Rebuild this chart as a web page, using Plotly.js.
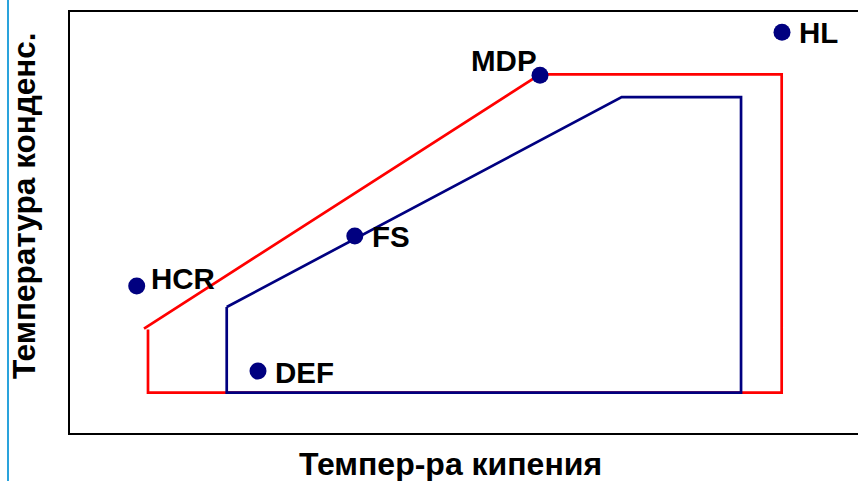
<!DOCTYPE html>
<html>
<head>
<meta charset="utf-8">
<script src="https://cdn.plot.ly/plotly-3.0.1.min.js"></script>
<style>html,body{margin:0;padding:0;overflow:hidden;background:#fff;}#chart{width:880px;height:481px;}</style>
</head>
<body>
<div id="chart"></div>
<script>
// Named data arrays (arbitrary 0-100 units)
const pointNames = ["HCR", "DEF", "FS", "MDP", "HL"];
const pointX = [8.34, 23.5, 35.6, 58.75, 89.0];
const pointY = [34.9, 14.7, 46.8, 85.0, 95.2];

const redX = [9.25, 58.75, 88.96, 88.96, 9.75, 9.75];
const redY = [24.8, 85.2, 85.2, 9.57, 9.57, 24.6];

const blueX = [19.59, 68.96, 83.88, 83.88, 19.59, 19.59];
const blueY = [29.93, 79.8, 79.8, 9.57, 9.57, 29.93];

const xTitle = "Темпер-ра кипения";
const yTitle = "Температура конденс.";

// label placement styles
const labelStyle = {
  HCR: {xanchor: "left", xshift: 12, yshift: 8},
  DEF: {xanchor: "left", xshift: 15, yshift: -1},
  FS:  {xanchor: "left", xshift: 15, yshift: -1},
  MDP: {xanchor: "right", xshift: -1, yshift: 15},
  HL:  {xanchor: "left", xshift: 15, yshift: 0}
};

const font = "Liberation Sans, Arial, sans-serif";

const traces = [
  {x: redX, y: redY, mode: "lines", line: {color: "#ff0000", width: 2.7}, hoverinfo: "skip"},
  {x: blueX, y: blueY, mode: "lines", line: {color: "#000080", width: 2.7}, hoverinfo: "skip"},
  {x: pointX, y: pointY, mode: "markers", marker: {color: "#000080", size: 17}, text: pointNames}
];

const annotations = pointNames.map((n, i) => Object.assign({
  x: pointX[i], y: pointY[i], xref: "x", yref: "y", text: "<b>" + n + "</b>",
  showarrow: false, yanchor: "middle",
  font: {family: font, size: 29.5, color: "#000"}
}, labelStyle[n]));

annotations.push({
  x: 0.475, y: -0.074, xref: "paper", yref: "paper", text: "<b>" + xTitle + "</b>",
  showarrow: false, xanchor: "center", yanchor: "middle",
  font: {family: font, size: 32, color: "#000"}
});
annotations.push({
  x: -0.0575, y: 0.539, xref: "paper", yref: "paper", text: "<b>" + yTitle + "</b>",
  showarrow: false, xanchor: "center", yanchor: "middle", textangle: -90,
  font: {family: font, size: 31.5, color: "#000"}
});

const layout = {
  width: 880, height: 481,
  margin: {l: 70, r: 10, t: 12, b: 48},
  paper_bgcolor: "#fff", plot_bgcolor: "#fff",
  showlegend: false,
  xaxis: {range: [0, 100], showgrid: false, zeroline: false, showticklabels: false, ticks: "",
          showline: true, linecolor: "#000", linewidth: 2, mirror: true, fixedrange: true},
  yaxis: {range: [0, 100], showgrid: false, zeroline: false, showticklabels: false, ticks: "",
          showline: true, linecolor: "#000", linewidth: 2, mirror: true, fixedrange: true},
  annotations: annotations,
  shapes: [{type: "line", xref: "paper", yref: "paper", x0: -0.0775, x1: -0.0775, y0: -0.12, y1: 1.05,
            line: {color: "#2aa3dc", width: 2}}]
};

Plotly.newPlot("chart", traces, layout, {staticPlot: true, displayModeBar: false});
</script>
</body>
</html>
